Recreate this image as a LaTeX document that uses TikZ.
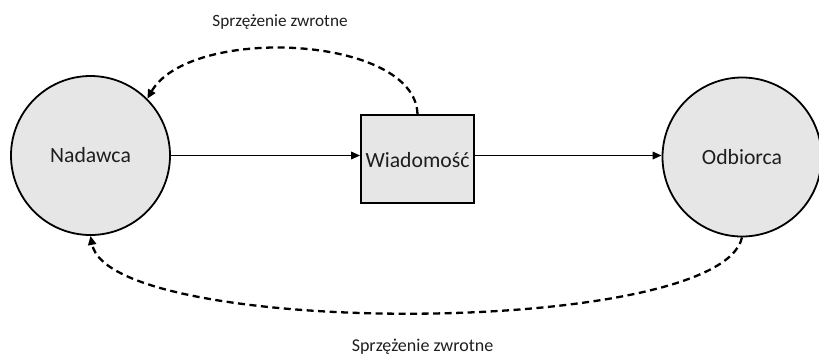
\documentclass[tikz,border=0pt]{standalone}
\usepackage{fontspec}
\setmainfont{Carlito}
\usetikzlibrary{arrows.meta}
\definecolor{fillgray}{HTML}{E7E6E6}
\definecolor{txt}{HTML}{1E1E1E}
\begin{document}
\begin{tikzpicture}[x=1pt,y=-1pt,
  party/.style={circle,draw=black,fill=fillgray,line width=1.8pt,minimum size=159pt,inner sep=0pt,
    font=\fontsize{21.7}{26}\selectfont,text=txt},
  msgbox/.style={rectangle,draw=black,fill=fillgray,line width=1.8pt,minimum width=113pt,minimum height=88pt,inner sep=0pt,
    font=\fontsize{21.7}{26}\selectfont,text=txt},
  flow/.style={line width=1.8pt,-{Triangle[length=9pt,width=7.5pt]}},
  feedback/.style={line width=2.3pt,dash pattern=on 7pt off 4.5pt,-{Triangle[length=9pt,width=8pt]}},
  fblabel/.style={anchor=base,text=txt,inner sep=0pt}]
\useasboundingbox (0,0) rectangle (819,357);
\node[party] (nad) at (90.5,155.5) {Nadawca};
\node[msgbox] (msg) at (417.5,159) {};
\node[text=txt,font=\fontsize{21.7}{26}\selectfont] (msgtxt) at (417.5,160) {Wiadomość};
\node[party] (odb) at (742,157) {Odbiorca};
\draw[flow] (nad.east) -- (nad.east -| msg.west);
\draw[flow] (msg.east |- nad.east) -- (odb.west |- nad.east);
\draw[feedback] (msg.north) .. controls (415,35) and (190,25) .. (nad.45);
\draw[feedback] (odb.south) .. controls (720,338) and (110,338) .. (nad.south);
\node[fblabel,font=\fontsize{17.2}{20}\selectfont] (fbtop) at (280,26) {Sprzężenie zwrotne};
\node[fblabel,font=\fontsize{18}{21}\selectfont] (fbbot) at (422.5,351.5) {Sprzężenie zwrotne};
\end{tikzpicture}
\end{document}
